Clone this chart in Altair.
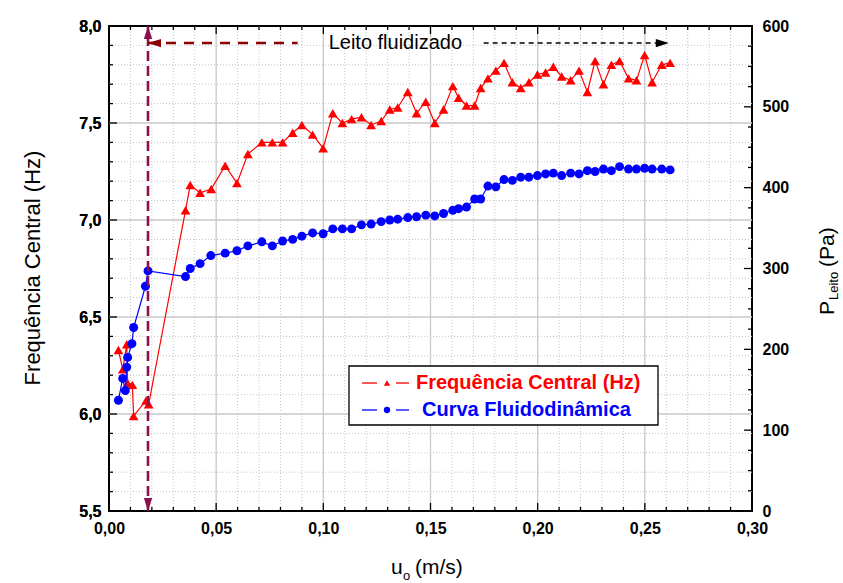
import altair as alt
import pandas as pd

# Superficial gas velocity u_o (m/s) and central frequency (Hz)
u_freq = [0.0044, 0.0064, 0.0083, 0.0087, 0.0109, 0.0115, 0.0173, 0.0185,
          0.0357, 0.0379, 0.0425, 0.0477, 0.0542, 0.0597, 0.0648, 0.0713, 0.0762, 0.0810,
          0.0857, 0.0900, 0.0950, 0.0999, 0.1044, 0.1089, 0.1132, 0.1178, 0.1223, 0.1270,
          0.1310, 0.1347, 0.1394, 0.1435, 0.1478, 0.1520, 0.1561, 0.1604, 0.1631, 0.1668,
          0.1706, 0.1734, 0.1768, 0.1805, 0.1843, 0.1882, 0.1921, 0.1959, 0.1999, 0.2037,
          0.2073, 0.2112, 0.2154, 0.2193, 0.2232, 0.2268, 0.2307, 0.2344, 0.2382, 0.2424,
          0.2461, 0.2499, 0.2534, 0.2579, 0.2618]
freq_hz = [6.33, 6.23, 6.36, 6.16, 6.15, 5.99, 6.07, 6.05,
           7.05, 7.18, 7.14, 7.16, 7.28, 7.19, 7.34, 7.40, 7.40, 7.40,
           7.45, 7.49, 7.44, 7.37, 7.55, 7.50, 7.52, 7.53, 7.49, 7.51,
           7.57, 7.58, 7.66, 7.55, 7.61, 7.50, 7.57, 7.69, 7.63, 7.59,
           7.59, 7.68, 7.73, 7.77, 7.81, 7.71, 7.68, 7.71, 7.75, 7.76,
           7.79, 7.74, 7.72, 7.77, 7.66, 7.82, 7.70, 7.80, 7.82, 7.73,
           7.72, 7.85, 7.71, 7.80, 7.81]

# Bed pressure drop P_Leito (Pa) - fluid-dynamic curve
u_press = [0.0044, 0.0064, 0.0076, 0.0083, 0.0087, 0.0107, 0.0115, 0.0170, 0.0182,
           0.0357, 0.0379, 0.0425, 0.0475, 0.0542, 0.0597, 0.0648, 0.0713, 0.0762, 0.0810,
           0.0857, 0.0900, 0.0950, 0.0999, 0.1044, 0.1089, 0.1132, 0.1178, 0.1223, 0.1270,
           0.1310, 0.1347, 0.1394, 0.1435, 0.1478, 0.1520, 0.1561, 0.1604, 0.1631, 0.1668,
           0.1706, 0.1734, 0.1768, 0.1805, 0.1843, 0.1882, 0.1921, 0.1959, 0.1999, 0.2037,
           0.2073, 0.2112, 0.2154, 0.2193, 0.2232, 0.2268, 0.2307, 0.2344, 0.2382, 0.2424,
           0.2461, 0.2499, 0.2534, 0.2579, 0.2618]
p_leito = [137, 164, 149, 178, 190, 207, 227, 278, 297,
           290, 300, 306, 316, 319, 322, 328, 333, 328, 334,
           336, 340, 344, 343, 349, 349, 349, 354, 355, 358,
           360, 361, 363, 364, 366, 365, 368, 372, 374, 376,
           386, 386, 402, 401, 410, 409, 413, 413, 415, 417,
           418, 415, 418, 417, 421, 420, 423, 421, 426, 423,
           423, 424, 423, 423, 422]

# Axis ticks
X_MAJOR = [0.0, 0.05, 0.10, 0.15, 0.20, 0.25, 0.30]
X_MINOR = [round(i * 0.01, 2) for i in range(31) if i % 5]
Y_MAJOR = [5.5, 6.0, 6.5, 7.0, 7.5, 8.0]
Y_MINOR = [round(5.5 + i * 0.1, 1) for i in range(26) if i % 5]
P_MAJOR = [0, 100, 200, 300, 400, 500, 600]
P_MINOR = [25 * i for i in range(25) if i % 4]

# Fluidized-bed annotation (minimum fluidization velocity and arrow)
U_MF = 0.0182
ARROW_Y = 7.912
ARROW_END = 0.2612
RED_DASH_END = 0.0880
BLACK_DASH_START = 0.1748
LABEL_U = 0.1336

W, H = 643, 485
FONT = "Liberation Sans"

xs = alt.Scale(domain=[0, 0.30], nice=False, zero=False, padding=0)
ys = alt.Scale(domain=[5.5, 8.0], nice=False, zero=False, padding=0)
ps = alt.Scale(domain=[0, 600], nice=False, zero=False, padding=0)

common_axis = dict(grid=False, ticks=False, domain=False, title=None, labelFlush=False,
                   labelFont=FONT, labelFontSize=16, labelFontWeight="bold",
                   labelColor="black")
x_axis = alt.Axis(values=X_MAJOR, labelPadding=9,
                  labelExpr="replace(format(datum.value, '.2f'), '.', ',')", **common_axis)
y_axis = alt.Axis(values=Y_MAJOR, labelPadding=8,
                  labelExpr="replace(format(datum.value, '.1f'), '.', ',')", **common_axis)
p_axis = alt.Axis(values=P_MAJOR, labelPadding=10, orient="right", format="d", **common_axis)


def X(field):
    return alt.X(field, type="quantitative", scale=xs, axis=x_axis)


def Y(field):
    return alt.Y(field, type="quantitative", scale=ys, axis=y_axis)


def P(field):
    return alt.Y(field, type="quantitative", scale=ps, axis=p_axis)


one = alt.Data(values=[{}])

# ---- grid ----
grid_minor_v = alt.Chart(pd.DataFrame({"v": X_MINOR})).mark_rule(
    color="#c4c4c4", strokeWidth=1, strokeDash=[1, 2]).encode(
    x=X("v"), y=alt.value(0), y2=alt.value(H))
grid_minor_h = alt.Chart(pd.DataFrame({"v": Y_MINOR})).mark_rule(
    color="#c4c4c4", strokeWidth=1, strokeDash=[1, 2]).encode(
    y=Y("v"), x=alt.value(0), x2=alt.value(W))
grid_major_v = alt.Chart(pd.DataFrame({"v": X_MAJOR[1:-1]})).mark_rule(
    color="#c8c8c8", strokeWidth=1.3).encode(
    x=X("v"), y=alt.value(0), y2=alt.value(H))
grid_major_h = alt.Chart(pd.DataFrame({"v": Y_MAJOR[1:-1]})).mark_rule(
    color="#c8c8c8", strokeWidth=1.3).encode(
    y=Y("v"), x=alt.value(0), x2=alt.value(W))

# ---- inward ticks ----
def x_ticks(vals, length):
    d = pd.DataFrame({"v": vals})
    bottom = alt.Chart(d).mark_rule(color="black", strokeWidth=1.3).encode(
        x=X("v"), y=alt.value(H), y2=alt.value(H - length))
    top = alt.Chart(d).mark_rule(color="black", strokeWidth=1.3).encode(
        x=X("v"), y=alt.value(0), y2=alt.value(length))
    return [bottom, top]


def y_ticks(vals, length):
    d = pd.DataFrame({"v": vals})
    return alt.Chart(d).mark_rule(color="black", strokeWidth=1.3).encode(
        y=Y("v"), x=alt.value(0), x2=alt.value(length))


def p_ticks(vals, length):
    d = pd.DataFrame({"v": vals})
    return alt.Chart(d).mark_rule(color="black", strokeWidth=1.3).encode(
        y=P("v"), x=alt.value(W), x2=alt.value(W - length))


# ---- data series ----
df_f = pd.DataFrame({"u": u_freq, "f": freq_hz, "i": range(len(u_freq))})
df_p = pd.DataFrame({"u": u_press, "p": p_leito, "i": range(len(u_press))})

freq_line = alt.Chart(df_f).mark_line(color="#ff0000", strokeWidth=1.2).encode(
    x=X("u"), y=Y("f"), order=alt.Order("i:Q"))
freq_pts = alt.Chart(df_f).mark_point(shape="triangle-up", filled=True, size=95,
                                      color="#ff0000", opacity=1).encode(x=X("u"), y=Y("f"))
press_line = alt.Chart(df_p).mark_line(color="#0000ff", strokeWidth=1.2).encode(
    x=X("u"), y=P("p"), order=alt.Order("i:Q"))
press_pts = alt.Chart(df_p).mark_point(shape="circle", filled=True, size=80,
                                       color="#0000ff", opacity=1).encode(x=X("u"), y=P("p"))

# ---- annotation: minimum fluidization line and "Leito fluidizado" arrow ----
vline = alt.Chart(pd.DataFrame({"u": [U_MF], "a": [5.5], "b": [8.0]})).mark_rule(
    color="#8b1050", strokeWidth=2.6, strokeDash=[10, 5]).encode(
    x=X("u"), y=Y("a"), y2="b")
head_up = alt.Chart(pd.DataFrame({"u": [U_MF], "y": [8.0]})).mark_point(
    shape="M0,0L0.32,1L-0.32,1Z", size=676, filled=True, color="#8b1050",
    opacity=1).encode(x=X("u"), y=Y("y"))
head_down = alt.Chart(pd.DataFrame({"u": [U_MF], "y": [5.5]})).mark_point(
    shape="M0,0L0.32,-1L-0.32,-1Z", size=676, filled=True, color="#8b1050",
    opacity=1).encode(x=X("u"), y=Y("y"))
red_dash = alt.Chart(pd.DataFrame({"a": [U_MF], "b": [RED_DASH_END], "y": [ARROW_Y]})).mark_rule(
    color="#8b0000", strokeWidth=2.4, strokeDash=[10, 8]).encode(
    x=X("a"), x2="b", y=Y("y"))
head_left = alt.Chart(pd.DataFrame({"u": [U_MF], "y": [ARROW_Y]})).mark_point(
    shape="M0,0L1,-0.32L1,0.32Z", size=676, filled=True, color="#8b0000",
    opacity=1).encode(x=X("u"), y=Y("y"))
black_dash = alt.Chart(pd.DataFrame({"a": [BLACK_DASH_START], "b": [ARROW_END - 0.005],
                                     "y": [ARROW_Y]})).mark_rule(
    color="black", strokeWidth=1.4, strokeDash=[5, 4]).encode(
    x=X("a"), x2="b", y=Y("y"))
head_right = alt.Chart(pd.DataFrame({"u": [ARROW_END], "y": [ARROW_Y]})).mark_point(
    shape="M0,0L-1,-0.32L-1,0.32Z", size=676, filled=True, color="black",
    opacity=1).encode(x=X("u"), y=Y("y"))
fluid_label = alt.Chart(pd.DataFrame({"u": [LABEL_U], "y": [ARROW_Y], "t": ["Leito fluidizado"]})).mark_text(
    font=FONT, fontSize=20, color="black", align="center", baseline="middle").encode(
    x=X("u"), y=Y("y"), text="t:N")

# ---- legend ----
leg_box = alt.Chart(one).mark_rect(fill="white", stroke="black", strokeWidth=1.3).encode(
    x=alt.value(240), x2=alt.value(549), y=alt.value(340), y2=alt.value(399))


def leg_row(y, color, shape, text, tx):
    seg1 = alt.Chart(one).mark_rule(color=color, strokeWidth=1.3).encode(
        x=alt.value(253), x2=alt.value(268), y=alt.value(y))
    seg2 = alt.Chart(one).mark_rule(color=color, strokeWidth=1.3).encode(
        x=alt.value(287), x2=alt.value(300), y=alt.value(y))
    sym = alt.Chart(one).mark_point(shape=shape, filled=True, size=40, color=color,
                                    opacity=1).encode(x=alt.value(278), y=alt.value(y))
    lab = alt.Chart(one).mark_text(font=FONT, fontSize=20, fontWeight="bold", color=color,
                                   align="left", baseline="middle", text=text).encode(
        x=alt.value(tx), y=alt.value(y))
    return [seg1, seg2, sym, lab]


# ---- axis titles ----
def label(text, x, y, size, angle=0, align="left", baseline="alphabetic"):
    return alt.Chart(one).mark_text(font=FONT, fontSize=size, color="black", text=text,
                                    angle=angle, align=align, baseline=baseline).encode(
        x=alt.value(x), y=alt.value(y))


titles = [
    label("Frequência Central (Hz)", -76, 242, 22, angle=270, align="center", baseline="middle"),
    label("u", 282, 548, 21),
    label("o", 294, 554, 13),
    label("(m/s)", 306, 548, 21),
    label("P", 725, 289, 21, angle=270),
    label("Leito", 729, 274, 13, angle=270),
    label("(Pa)", 725, 241, 21, angle=270),
]

left_layers = [grid_minor_v, grid_minor_h, grid_major_v, grid_major_h,
               *x_ticks(X_MINOR, 4), *x_ticks(X_MAJOR, 8),
               y_ticks(Y_MINOR, 4), y_ticks(Y_MAJOR, 8),
               freq_line, freq_pts]
right_layers = [p_ticks(P_MINOR, 4), p_ticks(P_MAJOR, 8), press_line, press_pts]
top_layers = [vline, head_up, head_down, red_dash, head_left, black_dash, head_right,
              fluid_label, leg_box,
              *leg_row(357, "#ff0000", "triangle-up", "Frequência Central (Hz)", 307),
              *leg_row(384, "#0000ff", "circle", "Curva Fluidodinâmica", 313),
              *titles]

left = alt.layer(*left_layers)
right = alt.layer(*right_layers)
annot = alt.layer(*top_layers)

chart = alt.layer(left, right, annot).resolve_scale(y="independent").properties(
    width=W, height=H,
    autosize=alt.AutoSizeParams(type="none"),
    padding={"left": 109, "top": 26, "right": 91, "bottom": 72},
    background="white",
).configure_view(stroke="black", strokeWidth=2)

chart.save("out.html", embed_options={"renderer": "svg", "actions": False})
